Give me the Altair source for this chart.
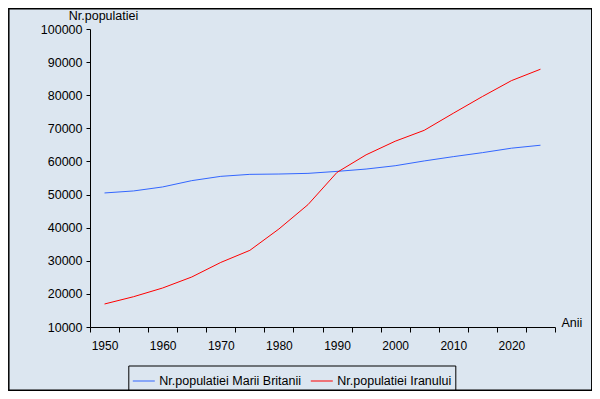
import altair as alt
import pandas as pd

years = [1950, 1955, 1960, 1965, 1970, 1975, 1980, 1985, 1990, 1995, 2000, 2005, 2010, 2015, 2020, 2025]
uk = [50480, 51090, 52300, 54200, 55500, 56100, 56200, 56400, 57000, 57700, 58700, 60150, 61450, 62650, 64000, 64900]
iran = [16950, 19150, 21780, 25100, 29500, 33150, 39600, 46950, 56700, 62000, 66100, 69400, 74550, 79600, 84400, 87850]
series_names = ["Nr.populatiei Marii Britanii", "Nr.populatiei Iranului"]
series_colors = ["#3366ff", "#ff0000"]
y_ticks = [10000, 20000, 30000, 40000, 50000, 60000, 70000, 80000, 90000, 100000]

rows = []
for y, a, b in zip(years, uk, iran):
    rows.append({"year": y, "series": series_names[0], "value": a})
    rows.append({"year": y, "series": series_names[1], "value": b})
df = pd.DataFrame(rows)

FONT = "Liberation Sans"

frame = alt.Chart(pd.DataFrame({"k": [0]})).mark_rect(
    fill="#dce6f0", stroke="black", strokeWidth=1.5
).encode(
    x=alt.value(-81.2), x2=alt.value(501.8), y=alt.value(-20.2), y2=alt.value(361.2)
)

lines = alt.Chart(df).mark_line(strokeWidth=1).encode(
    x=alt.X(
        "year:O",
        bandPosition=0.5,
        scale=alt.Scale(type="band", paddingInner=0, paddingOuter=0),
        axis=alt.Axis(
            zindex=1,
            title="Anii",
            titleAngle=0,
            titleX=471,
            titleY=-1,
            titleAlign="left",
            titleBaseline="alphabetic",
            titleFontWeight="normal",
            titleFontSize=12.5,
            titleFont=FONT,
            titleColor="black",
            labelAngle=0,
            labelExpr="datum.value % 10 == 0 ? datum.label : ''",
            labelFont=FONT,
            labelFontSize=12,
            labelColor="black",
            labelPadding=8,
            labelOverlap=False,
            tickBand="extent",
            tickSize=5,
            tickColor="black",
            domainColor="black",
            grid=False,
        ),
    ),
    y=alt.Y(
        "value:Q",
        scale=alt.Scale(domain=[10000, 100000], nice=False, zero=False),
        axis=alt.Axis(
            zindex=1,
            values=y_ticks,
            format="d",
            title="Nr.populatiei",
            titleAngle=0,
            titleX=13,
            titleY=-10,
            titleAlign="center",
            titleBaseline="alphabetic",
            titleFontWeight="normal",
            titleFontSize=12.5,
            titleFont=FONT,
            titleColor="black",
            labelFont=FONT,
            labelFontSize=12.5,
            labelColor="black",
            labelPadding=4,
            tickSize=4,
            tickColor="black",
            domainColor="black",
            grid=False,
        ),
    ),
    color=alt.Color(
        "series:N",
        scale=alt.Scale(domain=series_names, range=series_colors),
        legend=alt.Legend(
            title=None,
            orient="none",
            legendX=38.3,
            legendY=336.5,
            direction="horizontal",
            columns=2,
            symbolType="stroke",
            symbolSize=484,
            symbolStrokeWidth=1,
            labelFont=FONT,
            labelFontSize=12.5,
            labelColor="black",
            labelOffset=4,
            columnPadding=7,
            padding=4,
            strokeColor="black",
        ),
    ),
)

chart = alt.layer(frame, lines).properties(
    width=465,
    height=298,
    autosize=alt.AutoSizeParams(type="none"),
    padding={"left": 82, "top": 21, "right": 37, "bottom": 64},
    background="white",
).configure_view(strokeWidth=0)

chart.save("out.html", embed_options={"renderer": "svg", "actions": False})
